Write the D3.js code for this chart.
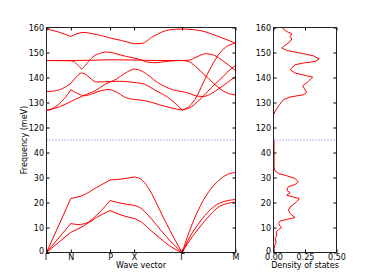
<!DOCTYPE html>
<html>
<head>
<meta charset="utf-8">
<script src="https://cdn.jsdelivr.net/npm/d3@7"></script>
<style>
  body { margin: 0; background: #fff; }
  text { font-family: "DejaVu Sans", sans-serif; }
</style>
</head>
<body>
<div class="canvas"></div>
<script>
// high symmetry points along the path
const kLabels = ["Γ", "N", "P", "X", "Γ", "M"];
const kTicks = [0, 24.3, 63.6, 87.6, 135.6, 189];

// frequency ticks (axis is broken between 45 and 115 meV)
const yTicks = [0, 10, 20, 30, 40, 120, 130, 140, 150, 160];
const dosTicks = [0, 0.25, 0.5];

// acoustic branches [k, meV]
const acoustic1 = [[0,0],[24.3,21.6],[36.6,22.9],[50,26],[63.6,29],[73.3,29.3],[87.6,30.2],[93.3,29.6],[103.3,24.9],[113.3,16.9],[123.3,8.9],[135.6,0],[143.3,8.9],[153.3,18.2],[163.3,24.9],[173.3,29.2],[183.3,31.6],[189,32]];
const acoustic2 = [[0,0],[24.3,11.6],[31.6,11.2],[40,11.8],[50,14.9],[63.6,20.8],[73.3,19.8],[87.6,18.9],[93.3,18],[103.3,14.2],[113.3,9.4],[123.3,4.8],[135.6,0],[143.3,6.2],[153.3,12.2],[163.3,16.9],[173.3,19.8],[189,21.2]];
const acoustic3 = [[0,0],[24.3,8.1],[36.6,10.5],[50,14],[63.6,16.8],[73.3,15.2],[83.3,14],[87.6,13.6],[93.3,12.6],[103.3,9.2],[113.3,5.8],[123.3,2.6],[135.6,0],[143.3,4.9],[153.3,10.2],[163.3,14.9],[173.3,18.5],[189,20.2]];

// optical branches
const optical1 = [[0,159.4],[12,158.2],[24.3,156.4],[36.6,158],[50,157.2],[63.6,155.8],[75,154.8],[87.6,153.5],[95,153.6],[106.6,156.4],[123.3,159.1],[135.6,159.4],[153.3,158.8],[170,156.7],[189,153.7]];
const optical2 = [[0,146.8],[24.3,146.8],[45,146.9],[63.6,147.1],[87.6,147.0],[110,146.8],[135.6,146.8],[142,146.9],[150,148.2],[159,149.5],[168,148.8],[176,146.8],[182,145],[189,142.8]];
const optical3 = [[0,146.8],[24.3,146.7],[28,146.2],[32,144.7],[35.3,143.5],[38.5,144.7],[42,146.4],[46.6,148.3],[53,149.6],[60,150.2],[63.6,150.1],[73.3,149.1],[80,148.4],[87.6,147.8],[95,147.0],[101.6,146.1],[110,145.9],[118.3,146.4],[135.6,146.8],[142,146.4],[148,144.8],[155,142.2],[162,139.6],[169,137],[176,134.8],[182,133.6],[189,133]];
const optical4 = [[0,134.4],[8,134.6],[16,135.6],[24.3,137.6],[30,140.3],[35,141.8],[40,141],[45,139.3],[50,138.2],[58.3,138.3],[63.6,138.4],[73.3,138.5],[87.6,138],[98,137.3],[106.6,135.4],[114,133.8],[120,132.4],[128,130],[135.6,127],[143,128.6],[150,132.3],[156.6,137.8],[165,144.5],[173.3,149.8],[181,152.6],[189,153.7]];
const optical5 = [[0,126.8],[6,127.6],[12,129.2],[18,131.6],[24.3,135.1],[30,133.8],[38,132.7],[46,133.5],[55,134.8],[63.6,135.2],[70,134.2],[78,132.2],[87.6,131.2],[100,130.6],[113,129.1],[125,127.8],[135.6,127],[145,128.3],[156.6,132.5],[165,136],[173.3,139.1],[181,142.2],[189,144.8]];
const optical6 = [[0,126.8],[13,128.3],[24.3,130.4],[36.6,132.7],[50,135],[58.3,137.2],[63.6,138.2],[70,139.4],[78,141.6],[84,142.9],[87.6,143.4],[91,143.2],[95,142.6],[103.3,140.4],[111,138],[118.3,136.4],[127,135],[135.6,134.4],[143,133.6],[150,132.6],[156.6,132.4],[165,133.6],[173.3,135.8],[181,138],[189,140.4]];

const branches = [acoustic1, acoustic2, acoustic3, optical1, optical2, optical3, optical4, optical5, optical6];

// density of states
const dosFreq = [0,1.6,2.9,4.2,5.6,6.9,8.2,9.2,10,10.5,11.6,12.6,13.2,14,15.6,16.9,18.2,20.3,21.6,22.2,22.9,23.9,24.9,26.3,27.2,28.3,29.6,30.7,31.6,32.6,34,45,
  115,125,125.8,127.1,129.1,131.1,132.2,133.1,134,135.1,136.7,138.4,140.2,140.7,141.8,143.1,145.1,145.8,146.4,147.4,148.7,149.8,150.8,151.8,152.4,154.4,155.4,156.4,157.5,158.4,160];
const dosVal = [0,0.005,0.01,0.021,0.013,0.026,0.021,0.04,0.066,0.053,0.04,0.053,0.105,0.171,0.132,0.118,0.132,0.184,0.205,0.158,0.105,0.132,0.105,0.118,0.171,0.197,0.171,0.105,0.04,0.013,0.005,0.004,
  0,0,0.006,0.021,0.047,0.079,0.132,0.237,0.263,0.25,0.232,0.276,0.311,0.263,0.171,0.132,0.171,0.237,0.329,0.363,0.315,0.21,0.105,0.066,0.079,0.132,0.145,0.132,0.145,0.105,0.066];

const width = 374, height = 280;
const yTop = 27.5, yBottom = 252.5;

const svg = d3.select(".canvas").append("svg")
    .attr("width", width)
    .attr("height", height);

// scales
const x = d3.scaleLinear().domain([0, 189]).range([46.5, 235.5]);
const xd = d3.scaleLinear().domain([0, 0.5]).range([273.5, 336.5]);
const y = d3.scaleLinear().domain([0, 45, 115, 160]).range([yBottom, 140, 140, yTop]);

// split a branch at the high symmetry points
function segments(pts) {
  const out = [];
  for (let i = 0; i < kTicks.length - 1; i++) {
    const s = pts.filter(p => p[0] >= kTicks[i] - 1e-6 && p[0] <= kTicks[i + 1] + 1e-6);
    if (s.length > 1) out.push(s);
  }
  return out;
}

const bandLine = d3.line()
    .curve(d3.curveMonotoneX)
    .x(d => x(d[0]))
    .y(d => y(d[1]));

branches.forEach(b => {
  segments(b).forEach(s => {
    svg.append("path")
        .attr("d", bandLine(s))
        .attr("fill", "none")
        .attr("stroke", "red")
        .attr("stroke-width", 1);
  });
});

// dos curve
const dosLine = d3.line()
    .x(d => xd(d[1]))
    .y(d => y(d[0]));

svg.append("path")
    .attr("d", dosLine(d3.zip(dosFreq, dosVal)))
    .attr("fill", "none")
    .attr("stroke", "red")
    .attr("stroke-width", 1);

// break marker
[[46.5, 235.5], [273.5, 336.5]].forEach(r => {
  svg.append("line")
      .attr("x1", r[0]).attr("x2", r[1])
      .attr("y1", 140).attr("y2", 140)
      .attr("stroke", "#6a6aff")
      .attr("stroke-width", 1)
      .attr("stroke-dasharray", "1,2");
});

function clean(g) {
  g.select(".domain").remove();
  g.attr("font-size", 8).attr("font-family", "DejaVu Sans");
  g.selectAll("line").attr("stroke", "#000");
}

// lift the zero label a little so it clears the x tick labels
function liftZero(g) {
  g.selectAll("text").filter(d => d === 0).attr("dy", "0.08em");
}

// left panel axes
svg.append("g")
    .attr("transform", "translate(0," + yBottom + ")")
    .call(d3.axisBottom(x).tickValues(kTicks).tickFormat((d, i) => kLabels[i])
        .tickSizeInner(-3).tickSizeOuter(0).tickPadding(2))
    .call(clean)
    .call(g => g.selectAll("text").filter(function() { return this.textContent === "Γ"; })
        .attr("font-family", "DejaVu Serif"));

svg.append("g")
    .attr("transform", "translate(0," + yTop + ")")
    .call(d3.axisTop(x).tickValues(kTicks).tickFormat("").tickSize(-3).tickSizeOuter(0))
    .call(clean);

svg.append("g")
    .attr("transform", "translate(46.5,0)")
    .call(d3.axisLeft(y).tickValues(yTicks).tickSizeInner(-3).tickSizeOuter(0).tickPadding(2.5))
    .call(clean)
    .call(liftZero);

svg.append("g")
    .attr("transform", "translate(235.5,0)")
    .call(d3.axisRight(y).tickValues(yTicks).tickFormat("").tickSize(-3).tickSizeOuter(0))
    .call(clean);

// right panel axes
svg.append("g")
    .attr("transform", "translate(0," + yBottom + ")")
    .call(d3.axisBottom(xd).tickValues(dosTicks).tickFormat(d3.format(".2f"))
        .tickSizeInner(-3).tickSizeOuter(0).tickPadding(2))
    .call(clean);

svg.append("g")
    .attr("transform", "translate(0," + yTop + ")")
    .call(d3.axisTop(xd).tickValues(dosTicks).tickFormat("").tickSize(-3).tickSizeOuter(0))
    .call(clean);

svg.append("g")
    .attr("transform", "translate(273.5,0)")
    .call(d3.axisLeft(y).tickValues(yTicks).tickSizeInner(-3).tickSizeOuter(0).tickPadding(2.5))
    .call(clean)
    .call(liftZero);

svg.append("g")
    .attr("transform", "translate(336.5,0)")
    .call(d3.axisRight(y).tickValues(yTicks).tickFormat("").tickSize(-3).tickSizeOuter(0))
    .call(clean);

// frames
svg.append("rect")
    .attr("x", 46.5).attr("y", yTop)
    .attr("width", 189).attr("height", yBottom - yTop)
    .attr("fill", "none").attr("stroke", "#222").attr("stroke-width", 1);

svg.append("rect")
    .attr("x", 273.5).attr("y", yTop)
    .attr("width", 63).attr("height", yBottom - yTop)
    .attr("fill", "none").attr("stroke", "#222").attr("stroke-width", 1);

// axis labels
svg.append("text")
    .attr("transform", "translate(26.5,140) rotate(-90)")
    .attr("text-anchor", "middle")
    .style("font-size", "8px")
    .text("Frequency (meV)");

svg.append("text")
    .attr("x", 141).attr("y", 268)
    .attr("text-anchor", "middle")
    .style("font-size", "8px")
    .text("Wave vector");

svg.append("text")
    .attr("x", 305).attr("y", 268)
    .attr("text-anchor", "middle")
    .style("font-size", "8px")
    .text("Density of states");
</script>
</body>
</html>
